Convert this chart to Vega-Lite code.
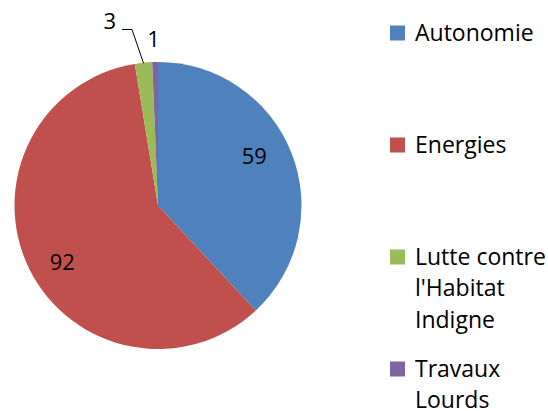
{
  "$schema": "https://vega.github.io/schema/vega-lite/v6.json",
  "width": 316,
  "height": 411,
  "padding": 0,
  "autosize": {"type": "pad"},
  "background": "white",
  "config": {
    "view": {"stroke": null},
    "style": {"guide-label": {"lineHeight": 31.5}}
  },
  "data": {
    "values": [
      {"cat": "Autonomie", "v": 59},
      {"cat": "Energies", "v": 92},
      {"cat": "Lutte contre l'Habitat Indigne", "v": 3},
      {"cat": "Travaux Lourds", "v": 1}
    ]
  },
  "layer": [
    {
      "mark": {"type": "arc", "radius": 143.5},
      "encoding": {
        "theta": {"field": "v", "type": "quantitative", "stack": true},
        "color": {
          "field": "cat",
          "type": "nominal",
          "scale": {"range": ["#4F81BD", "#C0504D", "#9BBB59", "#8064A2"]},
          "legend": {
            "orient": "none",
            "legendX": 386,
            "legendY": 11,
            "title": null,
            "padding": 0,
            "symbolType": "M-1,0.4H1V2.4H-1Z",
            "symbolSize": 225,
            "symbolStrokeWidth": 0,
            "labelFont": "Open Sans",
            "labelFontSize": 23,
            "labelColor": "black",
            "labelBaseline": "top",
            "labelOffset": 6,
            "labelLimit": 300,
            "gridAlign": "all",
            "rowPadding": 14,
            "labelExpr": "datum.label == \"Lutte contre l'Habitat Indigne\" ? [\"Lutte contre\", \"l'Habitat\", \"Indigne\"] : datum.label == \"Travaux Lourds\" ? [\"Travaux\", \"Lourds\"] : datum.label"
          }
        }
      }
    },
    {
      "data": {"values": [{"leader": "3"}]},
      "mark": {"type": "point", "shape": "M-0.145,-1.423L-0.26,-1.76L-0.36,-1.76", "size": 40000, "filled": false, "stroke": "black", "strokeWidth": 1, "opacity": 1},
      "encoding": {}
    },
    {
      "mark": {"type": "text", "radius": 110, "dx": -6, "dy": -8, "font": "Open Sans", "fontSize": 22, "color": "black"},
      "encoding": {
        "theta": {"field": "v", "type": "quantitative", "stack": true},
        "order": {"field": "cat", "type": "ordinal", "sort": "ascending"},
        "text": {"condition": {"test": "datum.v == 59", "field": "v"}, "value": ""}
      }
    },
    {
      "mark": {"type": "text", "radius": 110, "dx": 3, "dy": 9.5, "font": "Open Sans", "fontSize": 22, "color": "black"},
      "encoding": {
        "theta": {"field": "v", "type": "quantitative", "stack": true},
        "order": {"field": "cat", "type": "ordinal", "sort": "ascending"},
        "text": {"condition": {"test": "datum.v == 92", "field": "v"}, "value": ""}
      }
    },
    {
      "mark": {"type": "text", "radius": 110, "dx": -37, "dy": -74, "font": "Open Sans", "fontSize": 22, "color": "black"},
      "encoding": {
        "theta": {"field": "v", "type": "quantitative", "stack": true},
        "order": {"field": "cat", "type": "ordinal", "sort": "ascending"},
        "text": {"condition": {"test": "datum.v == 3", "field": "v"}, "value": ""}
      }
    },
    {
      "mark": {"type": "text", "radius": 110, "dx": -2.3, "dy": -55.5, "font": "Open Sans", "fontSize": 22, "color": "black"},
      "encoding": {
        "theta": {"field": "v", "type": "quantitative", "stack": true},
        "order": {"field": "cat", "type": "ordinal", "sort": "ascending"},
        "text": {"condition": {"test": "datum.v == 1", "field": "v"}, "value": ""}
      }
    }
  ]
}
